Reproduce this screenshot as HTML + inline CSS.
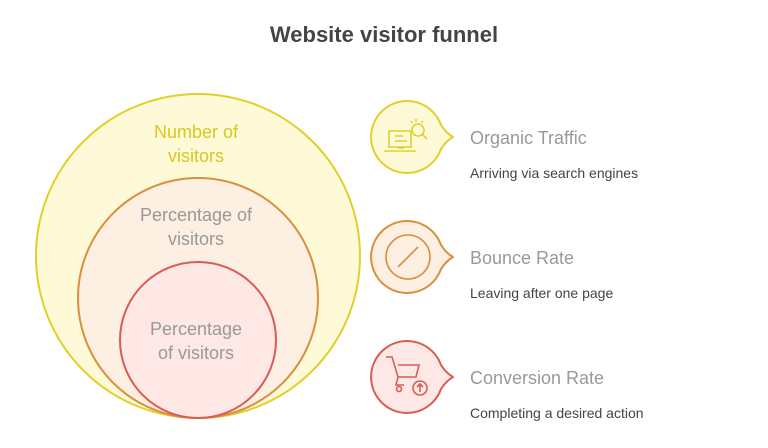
<!DOCTYPE html>
<html><head><style>
body{margin:0;width:768px;height:443px;background:#fff;overflow:hidden;font-family:"Liberation Sans",sans-serif}
</style></head><body>
<svg width="768" height="443" xmlns="http://www.w3.org/2000/svg" font-family="Liberation Sans, sans-serif">
<text x="384" y="42" text-anchor="middle" font-size="22" font-weight="bold" fill="#444">Website visitor funnel</text>
<circle cx="198" cy="256" r="162" fill="#fefad8" stroke="#e2cf2a" stroke-width="2"/>
<circle cx="198" cy="298" r="120" fill="#fdefe1" stroke="#d98f3c" stroke-width="2"/>
<circle cx="198" cy="340" r="78" fill="#fde8e6" stroke="#d95c55" stroke-width="2"/>
<g font-size="18" text-anchor="middle">
<text x="196" y="138" fill="#d9c720">Number of</text>
<text x="196" y="162" fill="#d9c720">visitors</text>
<text x="196" y="221" fill="#999">Percentage of</text>
<text x="196" y="245" fill="#999">visitors</text>
<text x="196" y="335" fill="#999">Percentage</text>
<text x="196" y="359" fill="#999">of visitors</text>
</g>
<path d="M441 125 A36 36 0 1 0 441 149 Q446 141 453 137 Q446 133 441 125 Z" fill="#fefad8" stroke="#e2cf2a" stroke-width="2" stroke-linejoin="round"/>
<g fill="none" stroke="#e2cf2a" stroke-width="1.6">
<rect x="389" y="131" width="22" height="16"/><path d="M384 151h32M395 136h8M395 141h12M398 148h6"/>
<circle cx="418" cy="130" r="6"/><path d="M422 134l5 5M416 119v3M411 121l1.5 2M423 121l-1.5 2"/>
</g>
<path d="M441 245 A36 36 0 1 0 441 269 Q446 261 453 257 Q446 253 441 245 Z" fill="#fdefe1" stroke="#d98f3c" stroke-width="2" stroke-linejoin="round"/>
<g fill="none" stroke="#d98f3c" stroke-width="1.6"><circle cx="408" cy="257" r="22"/><path d="M398 267L418 247"/></g>
<path d="M441 365 A36 36 0 1 0 441 389 Q446 381 453 377 Q446 373 441 365 Z" fill="#fde8e6" stroke="#d95c55" stroke-width="2" stroke-linejoin="round"/>
<g fill="none" stroke="#d95c55" stroke-width="1.6">
<path d="M386 357h6l6 20h18l3-12h-21M398 377l-2 8h8"/><circle cx="399" cy="389" r="2.5"/>
<circle cx="420" cy="388" r="7"/><path d="M420 392v-7M417 387l3-3 3 3"/>
</g>
<g>
<text x="470" y="144" font-size="18" fill="#999">Organic Traffic</text>
<text x="470" y="178" font-size="14" fill="#444">Arriving via search engines</text>
<text x="470" y="264" font-size="18" fill="#999">Bounce Rate</text>
<text x="470" y="298" font-size="14" fill="#444">Leaving after one page</text>
<text x="470" y="384" font-size="18" fill="#999">Conversion Rate</text>
<text x="470" y="418" font-size="14" fill="#444">Completing a desired action</text>
</g>
</svg>
</body></html>
